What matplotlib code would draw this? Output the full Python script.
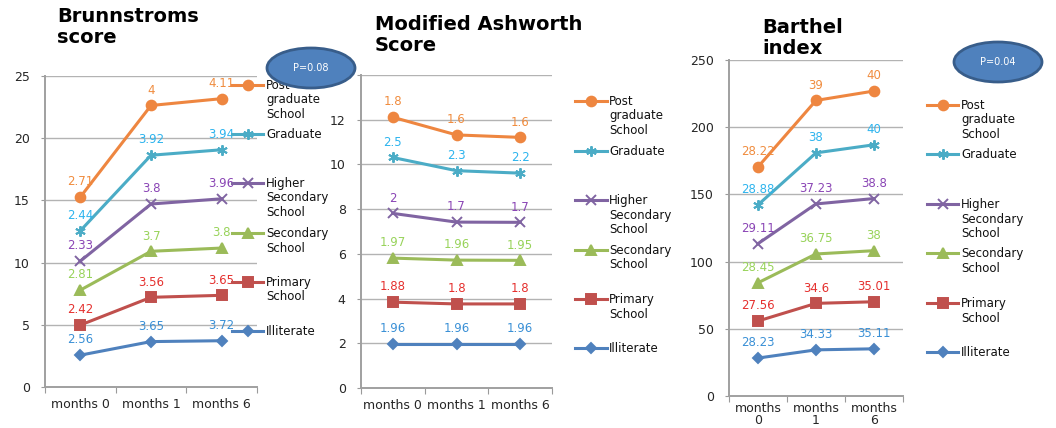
import matplotlib
matplotlib.use("Agg")
import matplotlib.pyplot as plt
import numpy as np
from matplotlib.lines import Line2D
from matplotlib.patches import Ellipse

plt.rcParams['font.family'] = ['DejaVu Sans']

# ---- data -------------------------------------------------------------
categories = ["months 0", "months 1", "months 6"]
categories_wrapped = ["months\n0", "months\n1", "months\n6"]

# stacking order, bottom to top
groups = ["Illiterate", "Primary\nSchool", "Secondary\nSchool",
          "Higher\nSecondary\nSchool", "Graduate", "Post\ngraduate\nSchool"]

brs_illiterate = [2.56, 3.65, 3.72]
brs_primary = [2.42, 3.56, 3.65]
brs_secondary = [2.81, 3.7, 3.8]
brs_higher = [2.33, 3.8, 3.96]
brs_graduate = [2.44, 3.92, 3.94]
brs_postgrad = [2.71, 4, 4.11]

mas_illiterate = [1.96, 1.96, 1.96]
mas_primary = [1.88, 1.8, 1.8]
mas_secondary = [1.97, 1.96, 1.95]
mas_higher = [2, 1.7, 1.7]
mas_graduate = [2.5, 2.3, 2.2]
mas_postgrad = [1.8, 1.6, 1.6]

bi_illiterate = [28.23, 34.33, 35.11]
bi_primary = [27.56, 34.6, 35.01]
bi_secondary = [28.45, 36.75, 38]
bi_higher = [29.11, 37.23, 38.8]
bi_graduate = [28.88, 38, 40]
bi_postgrad = [28.22, 39, 40]

# ---- styles -----------------------------------------------------------
line_colors = ["#4F81BD", "#C0504D", "#9BBB59", "#8064A2", "#4BACC6", "#EE8640"]
label_colors = ["#3A90D6", "#E5302E", "#98D35A", "#8A45B5", "#2DB4EE", "#F08C3E"]
markers = ["D", "s", "^", "x", (6, 2, 0), "o"]
msizes = [5, 7, 7.5, 7, 7.5, 7]

W, H = 1056, 428
fig = plt.figure(figsize=(W / 100, H / 100), dpi=100)


def fx(x):
    return x / W


def fy(y):
    return 1 - y / H


def make_axes(left, top, right, bottom):
    return fig.add_axes([fx(left), fy(bottom), (right - left) / W, (bottom - top) / H])


def draw_panel(ax, series, ylim, yticks, xlabels, xpad=8, xls=1.2):
    x = np.arange(len(categories))
    cum = np.zeros(len(categories))
    for i, vals in enumerate(series):
        cum = cum + np.asarray(vals, dtype=float)
        ax.plot(x, cum, color=line_colors[i], lw=2.2, marker=markers[i],
                ms=msizes[i], mew=1.4, mfc=line_colors[i], mec=line_colors[i],
                zorder=3, clip_on=False)
        for xi, yi, v in zip(x, cum, vals):
            ax.annotate(f"{v:g}", (xi, yi), xytext=(0, 11), textcoords="offset points",
                        ha="center", va="center", fontsize=8.5, color=label_colors[i],
                        zorder=4)
    ax.set_xlim(-0.5, len(categories) - 0.5)
    ax.set_ylim(*ylim)
    ax.set_yticks(yticks)
    ax.set_xticks(np.arange(len(categories) + 1) - 0.5)
    ax.set_xticklabels([])
    ax.set_xticks(x, minor=True)
    ax.set_xticklabels(xlabels, minor=True, fontsize=9, color="#262626",
                       linespacing=xls)
    ax.tick_params(axis="x", which="minor", length=0, pad=xpad)
    ax.tick_params(axis="x", which="major", length=4, color="#9A9A9A", direction="out")
    ax.tick_params(axis="y", length=3, color="#9A9A9A", labelsize=9,
                   labelcolor="#262626", pad=8)
    for s in ["top", "right"]:
        ax.spines[s].set_visible(False)
    for s in ["left", "bottom"]:
        ax.spines[s].set_color("#A0A0A0")
        ax.spines[s].set_linewidth(1.4)
    ax.grid(axis="y", color="#B3B3B3", lw=1)
    ax.set_axisbelow(True)
    ax.patch.set_alpha(0)


def draw_legend(x0, x1, tx, ys):
    for i in range(len(groups)):
        y = ys[i]
        xm = (x0 + x1) / 2
        fig.add_artist(Line2D([fx(x0), fx(xm), fx(x1)], [fy(y)] * 3,
                              transform=fig.transFigure, color=line_colors[i], lw=2.2,
                              marker=markers[i], markevery=[1], ms=msizes[i], mew=1.4,
                              mfc=line_colors[i], mec=line_colors[i]))
        fig.text(fx(tx), fy(y - 6), groups[i], ha="left", va="top", fontsize=8.5,
                 color="#111111", linespacing=1.15)


def draw_badge(cx, cy, text):
    fig.add_artist(Ellipse((fx(cx), fy(cy)), 88 / W, 40 / H, transform=fig.transFigure,
                           facecolor="#4F81BD", edgecolor="#385D8A", lw=2, zorder=10))
    fig.text(fx(cx), fy(cy), text, ha="center", va="center", fontsize=7,
             color="white", zorder=11)


# ---- Brunnstroms score ------------------------------------------------
ax1 = make_axes(45, 76, 257, 387)
draw_panel(ax1, [brs_illiterate, brs_primary, brs_secondary, brs_higher,
                 brs_graduate, brs_postgrad],
           (0, 25), [0, 5, 10, 15, 20, 25], categories)
draw_legend(232, 263, 266, [331, 282, 233, 183, 134, 85])
fig.text(fx(57), fy(7), "Brunnstroms\nscore", ha="left", va="top", fontsize=14,
         fontweight="bold", linespacing=1.15)

# ---- Modified Ashworth Score ------------------------------------------
ax2 = make_axes(361, 75, 552, 388)
draw_panel(ax2, [mas_illiterate, mas_primary, mas_secondary, mas_higher,
                 mas_graduate, mas_postgrad],
           (0, 14), [0, 2, 4, 6, 8, 10, 12, 14], categories)
draw_legend(575, 607, 609, [348, 299, 250, 200, 151, 101])
fig.text(fx(375), fy(15), "Modified Ashworth\nScore", ha="left", va="top", fontsize=14,
         fontweight="bold", linespacing=1.15)

# ---- Barthel index ----------------------------------------------------
ax3 = make_axes(729, 60, 903, 396)
draw_panel(ax3, [bi_illiterate, bi_primary, bi_secondary, bi_higher,
                 bi_graduate, bi_postgrad],
           (0, 250), [0, 50, 100, 150, 200, 250], categories_wrapped,
           xpad=4, xls=0.95)
draw_legend(927, 958, 961, [352, 303, 253, 204, 154, 105])
fig.text(fx(762), fy(18), "Barthel\nindex", ha="left", va="top", fontsize=14,
         fontweight="bold", linespacing=1.15, zorder=12)

# ---- significance badges ----------------------------------------------
draw_badge(311, 68, "P=0.08")
draw_badge(998, 62, "P=0.04")

fig.savefig("out.png", dpi=100)
